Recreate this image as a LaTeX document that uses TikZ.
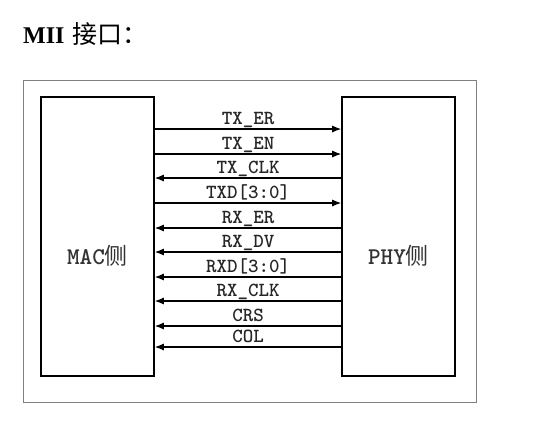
\documentclass[tikz,border=0pt]{standalone}
\usepackage{fontspec}
\setmainfont{Liberation Serif}
\newfontfamily\cjk{Noto Sans CJK SC}
\newfontfamily\sigfont{lmmonolt10-bold.otf}
\usetikzlibrary{arrows.meta}
\usetikzlibrary{positioning}

\begin{document}
\begin{tikzpicture}[x=1pt,y=-1pt]
	
	\tikzstyle{frame} = [rectangle,draw=gray,line width=0.8pt,minimum width=453pt,minimum height=322pt,inner sep=0pt]
	\tikzstyle{side} = [rectangle,draw,line width=1.6pt,fill=white,minimum width=113pt,minimum height=279pt,inner sep=0pt]
	\tikzstyle{sidelabel} = [font=\sigfont\fontsize{24}{24}\selectfont,text=black!80]
	\tikzstyle{sig} = [font=\sigfont\fontsize{20}{20}\selectfont,text=black!85,inner sep=0pt,anchor=base,yshift=4.5pt]
	\tikzstyle{sedge} = [-{Latex[length=9pt,width=7pt]},line width=1.1pt]
	
	\useasboundingbox (0,0) rectangle (545,424);
	
	\node[anchor=base west,inner sep=0pt,font=\fontsize{24}{24}\selectfont] (title) at (23,43) {\textbf{MII}\hspace{2pt} {\cjk\fontsize{25}{25}\selectfont 接口：}};
	
	\node[frame] (frame) at (249.5,241) {};
	\node[side] (mac) at (97.5,236.5) {};
	\node[side] (phy) at (398.5,236.5) {};
	\node[sidelabel] (maclabel) at (97.5,256) {MAC{\cjk\fontsize{23}{23}\selectfont 侧}};
	\node[sidelabel] (phylabel) at (398.5,256) {PHY{\cjk\fontsize{23}{23}\selectfont 侧}};
	
	\coordinate (r1) at (0,129);
	\coordinate (r2) at (0,154);
	\coordinate (r3) at (0,178);
	\coordinate (r4) at (0,203);
	\coordinate (r5) at (0,228);
	\coordinate (r6) at (0,252);
	\coordinate (r7) at (0,277);
	\coordinate (r8) at (0,301);
	\coordinate (r9) at (0,326);
	\coordinate (r10) at (0,347);
	
	\draw (mac.east |- r1) edge [sedge] node[sig] (txer) {TX\_ER} (phy.west |- r1);
	\draw (mac.east |- r2) edge [sedge] node[sig] (txen) {TX\_EN} (phy.west |- r2);
	\draw (phy.west |- r3) edge [sedge] node[sig] (txclk) {TX\_CLK} (mac.east |- r3);
	\draw (mac.east |- r4) edge [sedge] node[sig] (txd) {TXD[3:0]} (phy.west |- r4);
	\draw (phy.west |- r5) edge [sedge] node[sig] (rxer) {RX\_ER} (mac.east |- r5);
	\draw (phy.west |- r6) edge [sedge] node[sig] (rxdv) {RX\_DV} (mac.east |- r6);
	\draw (phy.west |- r7) edge [sedge] node[sig] (rxd) {RXD[3:0]} (mac.east |- r7);
	\draw (phy.west |- r8) edge [sedge] node[sig] (rxclk) {RX\_CLK} (mac.east |- r8);
	\draw (phy.west |- r9) edge [sedge] node[sig] (crs) {CRS} (mac.east |- r9);
	\draw (phy.west |- r10) edge [sedge] node[sig] (col) {COL} (mac.east |- r10);

\end{tikzpicture}
\end{document}
